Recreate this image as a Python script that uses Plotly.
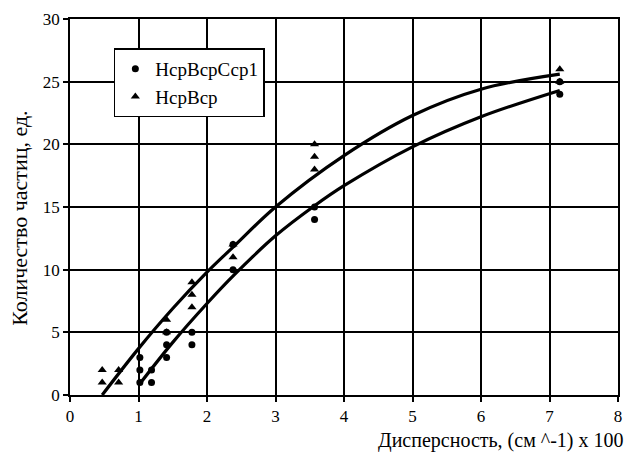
import plotly.graph_objects as go

# Series 1: НсрВсрСср1 (circles)
s1_x = [1.02, 1.02, 1.02, 1.19, 1.19, 1.41, 1.41, 1.41, 1.78, 1.78, 2.38, 2.38, 3.57, 3.57, 7.15, 7.15]
s1_y = [3, 2, 1, 2, 1, 5, 4, 3, 5, 4, 12, 10, 15, 14, 25, 24]
# Series 2: НсрВср (triangles)
s2_x = [0.47, 0.47, 0.71, 0.71, 1.41, 1.41, 1.78, 1.78, 1.78, 2.38, 2.38, 3.57, 3.57, 3.57, 7.15, 7.15]
s2_y = [2, 1, 2, 1, 6, 5, 9, 8, 7, 12, 11, 20, 19, 18, 26, 25]

# Trendline points
t1_x = [1.02, 1.5, 2.0, 2.4, 3.0, 3.57, 4.0, 5.0, 6.0, 7.15]
t1_y = [0.9, 4.2, 7.3, 9.6, 12.7, 15.1, 16.7, 19.8, 22.2, 24.3]
t2_x = [0.47, 1.0, 1.5, 2.0, 2.4, 3.0, 4.0, 5.0, 6.0, 7.15]
t2_y = [0.0, 3.7, 6.9, 9.8, 11.9, 15.0, 19.1, 22.3, 24.4, 25.6]

names = ["НсрВсрСср1", "НсрВср"]
x_title = "Дисперсность, (см ^-1) х 100"
y_title = "Количество частиц, ед."

FONT = "Liberation Serif, Times New Roman, serif"

fig = go.Figure()
fig.add_trace(go.Scatter(x=t1_x, y=t1_y, mode="lines", line=dict(color="black", width=3.2, shape="spline"),
                         showlegend=False, hoverinfo="skip"))
fig.add_trace(go.Scatter(x=t2_x, y=t2_y, mode="lines", line=dict(color="black", width=3.2, shape="spline"),
                         showlegend=False, hoverinfo="skip"))
fig.add_trace(go.Scatter(x=s1_x, y=s1_y, mode="markers", name=names[0],
                         marker=dict(symbol="circle", size=7, color="black")))
fig.add_trace(go.Scatter(x=s2_x, y=s2_y, mode="markers", name=names[1],
                         marker=dict(symbol="triangle-up", size=8, color="black")))

axis_common = dict(showgrid=True, gridcolor="black", gridwidth=1.5, showline=True, linecolor="black",
                   linewidth=1.5, mirror=True, ticks="outside", ticklen=5, tickcolor="black", tickwidth=1.5,
                   zeroline=False, automargin=False, tickfont=dict(family=FONT, size=17, color="black"))

fig.update_layout(
    width=634, height=452,
    margin=dict(l=62, r=24, t=11, b=65, autoexpand=False),
    paper_bgcolor="white", plot_bgcolor="white",
    font=dict(family=FONT, color="black"),
    xaxis=dict(range=[0, 8], dtick=1, **axis_common),
    yaxis=dict(range=[0, 30], dtick=5, **axis_common),
    legend=dict(x=0.08, y=0.922, xanchor="left", yanchor="top", bgcolor="white",
                bordercolor="black", borderwidth=1.5, font=dict(family=FONT, size=19),
                tracegroupgap=0, itemwidth=30),
    annotations=[
        dict(text=x_title, xref="paper", yref="paper", x=1.015, y=-0.12, xanchor="right",
             yanchor="middle", showarrow=False, font=dict(family=FONT, size=20, color="black")),
        dict(text=y_title, xref="paper", yref="paper", x=-0.092, y=0.47, xanchor="center",
             yanchor="middle", textangle=-90, showarrow=False,
             font=dict(family=FONT, size=22, color="black")),
    ],
)

fig.write_html("out.html")
